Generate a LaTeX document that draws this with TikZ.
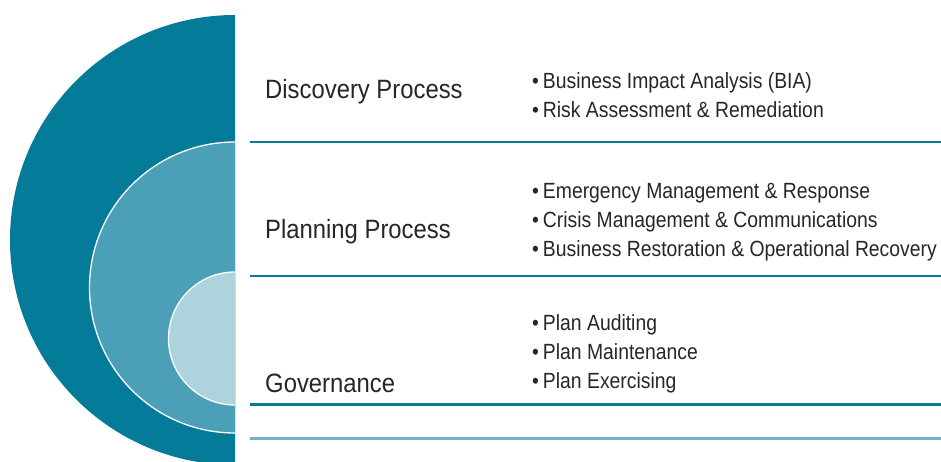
\documentclass[tikz,border=0pt]{standalone}
\usepackage{fontspec}
\setmainfont[FakeStretch=0.88]{Liberation Sans}
\newfontfamily\headfont[FakeStretch=0.90]{Liberation Sans}
\usepackage{tikz}
\definecolor{tealdark}{HTML}{037B99}
\definecolor{tealmid}{HTML}{4BA0B7}
\definecolor{teallight}{HTML}{ADD3DD}
\definecolor{tealrule}{HTML}{6FB3C6}
\definecolor{inkgray}{HTML}{262626}

\begin{document}
\begin{tikzpicture}[x=1pt,y=-1pt,
  head node/.style={anchor=base west,inner sep=0pt,text=inkgray,font=\headfont\fontsize{26.5}{26.5}\selectfont},
  item node/.style={anchor=base west,inner sep=0pt,text=inkgray,font=\fontsize{22}{22}\selectfont},
  rule/.style={tealdark,line width=2.2pt}]

  \useasboundingbox (0,0) rectangle (941,461);

  % nested half discs
  \begin{scope}
    \clip (0,0) rectangle (235,461);
    \fill[tealdark] (235,240) circle (225);
    \fill[tealmid,draw=white,line width=1.3pt] (235,287.5) circle (145.5);
    \fill[teallight,draw=white,line width=1.3pt] (235,338.5) circle (66.5);
  \end{scope}

  % separating rules
  \draw[rule] (250,142) -- (941,142);
  \draw[rule] (250,276) -- (941,276);
  \draw[rule] (250,404.5) -- (941,404.5);
  \draw[rule,tealrule] (250,438.5) -- (941,438.5);

  % headings
  \node[head node] (disc) at (265,98.5)  {Discovery Process};
  \node[head node] (plan) at (265,238.5) {Planning Process};
  \node[head node] (gov)  at (265,392)   {Governance};

  % bullet items
  \foreach \txt [count=\i] in {Business Impact Analysis (BIA),
      Risk Assessment \& Remediation}
    \node[item node] (d\i) at (532,88+29*\i-29) {\textbullet\kern4pt\txt};
  \foreach \txt [count=\i] in {Emergency Management \& Response,
      Crisis Management \& Communications,
      Business Restoration \& Operational Recovery}
    \node[item node] (p\i) at (532,198+29*\i-29) {\textbullet\kern4pt\txt};
  \foreach \txt [count=\i] in {Plan Auditing,Plan Maintenance,Plan Exercising}
    \node[item node] (g\i) at (532,330+29*\i-29) {\textbullet\kern4pt\txt};
\end{tikzpicture}
\end{document}
